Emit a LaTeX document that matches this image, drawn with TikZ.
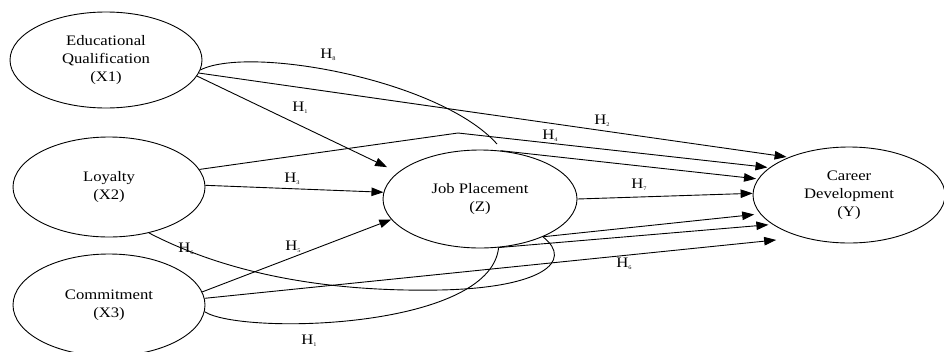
\documentclass[tikz,border=0pt]{standalone}
\usepackage{fontspec}
\setmainfont{Liberation Serif}[FakeStretch=1.15]
\usetikzlibrary{shapes.geometric,arrows.meta}
\tikzset{
 latent/.style={ellipse,draw,line width=0.9pt,minimum width=192pt,inner sep=0pt,align=center,font=\fontsize{14.5}{18}\selectfont},
 conn/.style={line width=0.9pt},
 arr/.style={conn,-{Triangle[length=12pt,width=8.5pt]}},
 hlab/.style={inner sep=0pt,font=\fontsize{14.5}{16}\selectfont},
}
\newcommand{\Hsub}[1]{H\raisebox{-0.3ex}{\fontsize{5.5}{6}\selectfont #1}}
\begin{document}
\begin{tikzpicture}[x=1pt,y=-1pt]
\useasboundingbox (0,0) rectangle (944,351);
% latent variables
\node[latent,minimum height=96pt] (X1) at (106,60) {Educational\\Qualification\\(X1)};
\node[latent,minimum height=100pt] (X2) at (109,187) {Loyalty\\(X2)};
\node[latent,minimum height=102pt] (X3) at (109,305) {Commitment\\(X3)};
\node[latent,minimum height=98pt,minimum width=194pt] (Z) at (480,199) {Job Placement\\(Z)};
\node[latent,minimum height=96pt] (Y) at (849,195) {Career\\Development\\(Y)};
% helper coordinates
\coordinate (h8end) at (497,144);
\coordinate (k4) at (458,133);
\coordinate (loop6) at (440,290);
% H1 (X1 -> Z)
\draw[arr,shorten >=12pt] (X1.-10) -- (Z.162);
% H8 (X1 -> Z -> Y)
\draw[conn] (X1.-6) .. controls (250,45) and (440,80) .. (h8end);
\draw[arr,shorten >=2pt] (Z.67) -- (Y.170);
% H2 (X1 -> Y)
\draw[arr,shorten >=2pt] (X1.-8) -- (Y.148);
% H4 (X2 -> Y)
\draw[arr,shorten >=2pt] (X2.11) -- (k4) -- (Y.161);
% H3 (X2 -> Z)
\draw[arr] (X2.1) -- (Z.176);
% H7 (Z -> Y)
\draw[arr] (Z.east) -- (Y.179);
% H5 (X3 -> Z)
\draw[arr] (X3.8) -- (Z.193);
% H6 (X3 -> Y)
\draw[arr,shorten >=26pt] (X3.4) -- (Y.222);
% H1 (X3 -> Z -> Y)
\draw[conn] (X3.-4) .. controls (240,335) and (490,330) .. (Z.-69);
\draw[arr,shorten >=4pt] (Z.-69) -- (Y.201);
% H6 (X2 -> Z -> Y)
\draw[conn] (X2.-49) .. controls (230,275) and (330,292) .. (loop6) .. controls (540,288) and (575,262) .. (Z.-31);
\draw[arr,shorten >=6pt] (Z.-31) -- (Y.192);
% labels
\node[hlab] (h8) at (328,55) {\Hsub{8}};
\node[hlab] (h1a) at (300,108) {\Hsub{1}};
\node[hlab] (h2) at (602,121) {\Hsub{2}};
\node[hlab] (h4) at (550,136) {\Hsub{4}};
\node[hlab] (h3) at (292,179) {\Hsub{3}};
\node[hlab] (h7) at (639,185) {\Hsub{7}};
\node[hlab] (h5) at (293,247) {\Hsub{5}};
\node[hlab] (h6a) at (186,249) {\Hsub{6}};
\node[hlab] (h6b) at (624,264) {\Hsub{6}};
\node[hlab] (h1b) at (309,341) {\Hsub{1}};
\end{tikzpicture}
\end{document}
